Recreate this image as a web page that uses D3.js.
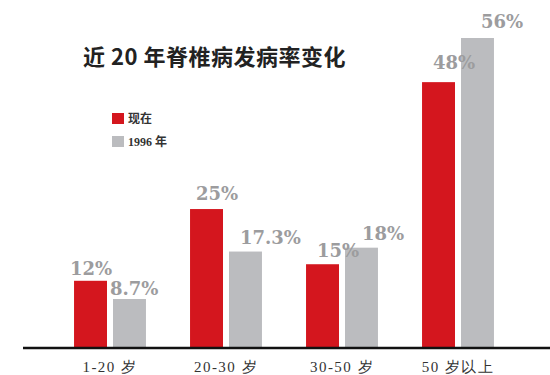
<!DOCTYPE html>
<html>
<head>
<meta charset="utf-8">
<script src="https://cdn.jsdelivr.net/npm/d3@7"></script>
<style>
  body { margin: 0; background: #fff; }
  svg { display: block; }
</style>
</head>
<body>
<script>
// DATA //
const groups = ['1-20 岁', '20-30 岁', '30-50 岁', '50 岁以上'];
const seriesNames = ['现在', '1996 年'];
const nowValues = [12, 25, 15, 48];
const oldValues = [8.7, 17.3, 18, 56];
const nowLabels = ['12%', '25%', '15%', '48%'];
const oldLabels = ['8.7%', '17.3%', '18%', '56%'];

// small hand nudges for the value labels (as set in the original print graphic)
const nowNudgeX = [-4, 6, 11, 11];
const oldNudgeX = [-3, 11, 17, 20];
const nowNudgeY = [-6, -9, -7, -13];
const oldNudgeY = [-4, -8, -8, -10];

const width = 550, height = 375;
const colors = { '现在': '#d4161e', '1996 年': '#bbbcbf' };
const labelColor = '#9c9c9e';

const svg = d3.select('body')
    .append('svg')
    .attr('width', width)
    .attr('height', height);

// scales
const x = d3.scaleBand()
    .domain(groups)
    .range([52, 516])
    .paddingInner(0.38)
    .paddingOuter(0.19);

const xSub = d3.scaleBand()
    .domain(seriesNames)
    .range([0, x.bandwidth()])
    .paddingInner(0.154);

const y = d3.scaleLinear()
    .domain([0, 56])
    .range([347, 38]);

// rows for the bars
const rows = [];
groups.forEach((g, i) => {
    rows.push({ group: g, series: seriesNames[0], value: nowValues[i], label: nowLabels[i], dx: nowNudgeX[i], dy: nowNudgeY[i] });
    rows.push({ group: g, series: seriesNames[1], value: oldValues[i], label: oldLabels[i], dx: oldNudgeX[i], dy: oldNudgeY[i] });
});

// bars
svg.append('g')
    .selectAll('rect')
    .data(rows)
    .join('rect')
    .attr('x', d => x(d.group) + xSub(d.series))
    .attr('y', d => y(d.value))
    .attr('width', xSub.bandwidth())
    .attr('height', d => y(0) - y(d.value))
    .attr('fill', d => colors[d.series]);

// value labels
svg.append('g')
    .selectAll('text')
    .data(rows)
    .join('text')
    .text(d => d.label)
    .attr('x', d => x(d.group) + xSub(d.series) + d.dx)
    .attr('y', d => y(d.value) + d.dy)
    .attr('font-family', 'DejaVu Serif')
    .attr('font-weight', 'bold')
    .attr('font-size', 18)
    .attr('fill', labelColor);

// baseline
svg.append('line')
    .attr('x1', 23)
    .attr('x2', width)
    .attr('y1', y(0) + 1)
    .attr('y2', y(0) + 1)
    .attr('stroke', '#111')
    .attr('stroke-width', 2.4);

// category labels
svg.append('g')
    .selectAll('text')
    .data(groups)
    .join('text')
    .text(d => d)
    .attr('x', d => x(d) + x.bandwidth() / 2)
    .attr('y', 372)
    .attr('text-anchor', 'middle')
    .attr('font-family', 'Liberation Serif')
    .attr('font-size', 15)
    .attr('letter-spacing', 1.5)
    .attr('fill', '#333');

// title
svg.append('text')
    .text('近 20 年脊椎病发病率变化')
    .attr('x', 83)
    .attr('y', 65)
    .attr('font-family', 'Noto Sans CJK SC')
    .attr('font-weight', 'bold')
    .attr('font-size', 22)
    .attr('letter-spacing', 0.5)
    .attr('fill', '#222');

// legend
const legend = svg.append('g')
    .selectAll('g')
    .data(seriesNames)
    .join('g')
    .attr('transform', (d, i) => `translate(112, ${113 + i * 23})`);

legend.append('rect')
    .attr('width', 12)
    .attr('height', 11)
    .attr('fill', d => colors[d]);

legend.append('text')
    .text(d => d)
    .attr('x', 16)
    .attr('y', 10)
    .attr('font-family', 'Liberation Serif, Noto Sans CJK SC')
    .attr('font-weight', 'bold')
    .attr('font-size', 12)
    .attr('fill', '#333');
</script>
</body>
</html>
